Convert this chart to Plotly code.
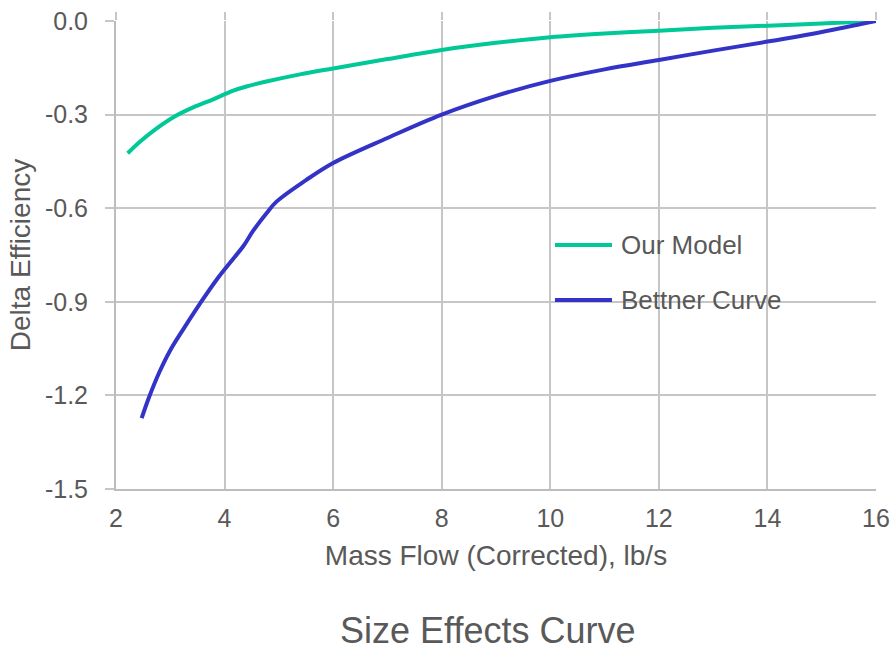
import plotly.graph_objects as go

# ---- data ----
model_x = [2.215, 2.44, 2.75, 3.05, 3.42, 3.79, 4.16, 4.40, 4.77, 5.39, 6.0, 7.0, 8.0, 9.0,
           10.0, 11.0, 12.0, 13.0, 14.0, 15.0, 16.0]
model_y = [-0.424, -0.387, -0.344, -0.309, -0.277, -0.251, -0.223, -0.21, -0.194, -0.171, -0.152,
           -0.122, -0.093, -0.07, -0.052, -0.04, -0.031, -0.022, -0.015, -0.008, 0.0]

bettner_x = [2.473, 2.6, 2.8, 3.0, 3.25, 3.55, 3.85, 4.16, 4.344, 4.528, 4.773, 4.957, 5.5,
             6.0, 7.0, 8.0, 9.0, 10.0, 11.0, 12.0, 13.0, 14.0, 15.0, 16.0]
bettner_y = [-1.273, -1.21, -1.125, -1.055, -0.985, -0.905, -0.83, -0.762, -0.722, -0.672, -0.616,
             -0.579, -0.51, -0.455, -0.375, -0.30, -0.24, -0.192, -0.155, -0.125, -0.095, -0.066,
             -0.035, 0.0]

x_ticks = [2, 4, 6, 8, 10, 12, 14, 16]
y_ticks = [0.0, -0.3, -0.6, -0.9, -1.2, -1.5]
y_ticktext = ["0.0", "-0.3", "-0.6", "-0.9", "-1.2", "-1.5"]

series_names = ["Our Model", "Bettner Curve"]
series_colors = ["#00C896", "#3333C8"]

TEXT = "#595959"
GRID = "#c6c6c6"
FONT = "Liberation Sans, Arial, sans-serif"

fig = go.Figure()
fig.add_trace(go.Scatter(x=model_x, y=model_y, mode="lines", name=series_names[0],
                         line=dict(color=series_colors[0], width=4, shape="spline", smoothing=1.0)))
fig.add_trace(go.Scatter(x=bettner_x, y=bettner_y, mode="lines", name=series_names[1],
                         line=dict(color=series_colors[1], width=4, shape="spline", smoothing=1.0)))
# invisible trace to carry the top tick axis
fig.add_trace(go.Scatter(x=[x_ticks[0], x_ticks[-1]], y=[y_ticks[0], y_ticks[-1]], xaxis="x2",
                         mode="lines", line=dict(width=0), opacity=0, hoverinfo="skip", showlegend=False))

fig.update_layout(
    width=893, height=651,
    margin=dict(l=116, r=17, t=21, b=162),
    paper_bgcolor="white", plot_bgcolor="white",
    font=dict(family=FONT, color=TEXT),
    showlegend=False,
    xaxis=dict(range=[2, 16], tickvals=x_ticks, showgrid=True, gridcolor=GRID, gridwidth=2,
               showline=True, linecolor="#bdbdbd", linewidth=2, zeroline=False, automargin=False,
               ticks="", tickfont=dict(size=25, color=TEXT), ticklabelstandoff=6,
               title=dict(text="Mass Flow (Corrected), lb/s", font=dict(size=28, color=TEXT), standoff=14)),
    xaxis2=dict(range=[2, 16], tickvals=x_ticks, overlaying="x", side="top", showgrid=False,
                showticklabels=False, ticks="outside", ticklen=8, tickwidth=2, tickcolor=GRID,
                zeroline=False, showline=False, automargin=False),
    yaxis=dict(range=[-1.5, 0.0], tickvals=y_ticks, ticktext=y_ticktext, showgrid=True, gridcolor=GRID,
               gridwidth=2, showline=True, linecolor="#bdbdbd", linewidth=2, zeroline=False,
               automargin=False, ticks="outside", ticklen=9, tickwidth=2, tickcolor=GRID,
               ticklabelstandoff=12, tickfont=dict(size=25, color=TEXT),
               title=dict(text="Delta Efficiency", font=dict(size=28, color=TEXT), standoff=6)),
)

# custom legend (long line samples like the original)
legend_rows = [0.5214, 0.4038]
for name, color, yy in zip(series_names, series_colors, legend_rows):
    fig.add_shape(type="line", xref="paper", yref="paper", x0=0.5776, x1=0.6526, y0=yy, y1=yy,
                  line=dict(color=color, width=4))
    fig.add_annotation(xref="paper", yref="paper", x=0.6618, y=yy, text=name, showarrow=False,
                       xanchor="left", yanchor="middle", font=dict(size=26, color=TEXT))

# chart title placed below the plot
fig.add_annotation(xref="paper", yref="paper", x=(487 - 116) / 760, y=(489 - 630) / 468,
                   text="Size Effects Curve", showarrow=False, xanchor="center", yanchor="middle",
                   font=dict(size=36, color=TEXT))

fig.write_html("out.html")
